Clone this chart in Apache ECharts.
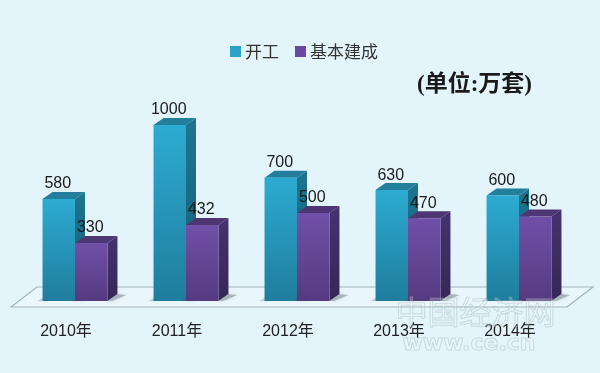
<!DOCTYPE html>
<html><head><meta charset="utf-8">
<script src="https://cdn.jsdelivr.net/npm/echarts@6/dist/echarts.min.js"></script>
<style>html,body{margin:0;padding:0;background:#e3f4fb}#c{width:600px;height:373px}</style>
</head><body><div id="c"></div>
<script>
const categories = ['2010年','2011年','2012年','2013年','2014年'];
const startValues = [580,1000,700,630,600];
const completedValues = [330,432,500,470,480];
const seriesNames = ['开工','基本建成'];
const unitText = '(单位:万套)';

const chart = echarts.init(document.getElementById('c'), null, {renderer:'canvas'});
const DX = 10, DY = -7;
const lg = (a,b)=>new echarts.graphic.LinearGradient(0,0,0,1,[{offset:0,color:a},{offset:1,color:b}]);
const pal = [
  {front:['#2dabd2','#1f7d9d'], side:['#1c7590','#175f79'], top:'#237e9c'},
  {front:['#7050a8','#553a80'], side:['#46326f','#372658'], top:'#4e3574'}
];
function bar3d(sign, p){
  return function(params, api){
    const i = api.value(0), v = api.value(1);
    const w = api.size([1,0])[0]*0.2925;
    const base = api.coord([i,0]), tp = api.coord([i,v]);
    const x0 = base[0] + (sign<0 ? -w : 0), x1 = x0 + w, y0 = base[1], y1 = tp[1];
    const children = [
      {type:'polygon',shape:{points:[[x1,y0],[x1+DX,y0+DY],[x1+DX+9,y0+DY+1],[x1+5,y0]]},
        style:{fill:'rgba(70,80,90,0.35)',shadowBlur:4,shadowColor:'rgba(70,80,90,0.35)'}},
      {type:'polygon',shape:{points:[[x0-5,y0],[x0+2,y0-4],[x0+2,y0]]},
        style:{fill:'rgba(70,80,90,0.25)',shadowBlur:3,shadowColor:'rgba(70,80,90,0.25)'}},
      {type:'polygon',shape:{points:[[x1,y0],[x1+DX,y0+DY],[x1+DX,y1+DY],[x1,y1]]},style:{fill:lg(p.side[0],p.side[1])}},
      {type:'polygon',shape:{points:[[x0,y1],[x1,y1],[x1+DX,y1+DY],[x0+DX,y1+DY]]},style:{fill:p.top}},
      {type:'rect',shape:{x:x0,y:y1,width:w,height:y0-y1},style:{fill:lg(p.front[0],p.front[1])}},
      {type:'text',style:{text:String(v),x:(x0+x1)/2-1,y:y1-15,align:'center',verticalAlign:'middle',
        font:'16px "Liberation Sans","Noto Sans CJK SC",sans-serif',fill:'#1a1a1a'},z2:50}
    ];
    return {type:'group',children};
  };
}
chart.setOption({
  animation:false,
  backgroundColor:'#e3f4fb',
  grid:{left:19.5,right:25.5,top:125,bottom:72},
  legend:{left:225,top:38,itemWidth:11,itemHeight:11,itemGap:16,icon:'rect',
    data:seriesNames,
    textStyle:{fontFamily:'"Noto Sans CJK SC"',fontSize:17,color:'#333',padding:[0,0,4,-1]}},
  graphic:[
    {type:'polygon',z:0,silent:true,shape:{points:[[11,307],[37,287],[593,287],[567,307]]},
      style:{fill:'#e9f6fb',stroke:'#a4b4bb',lineWidth:1.2}},
    {type:'text',z:100,silent:true,left:395,top:295,style:{text:'中国经济网',font:'32px "Noto Sans CJK SC"',
      fill:'rgba(255,255,255,0.2)',stroke:'rgba(150,165,175,0.4)',lineWidth:1}},
    {type:'text',z:100,silent:true,left:402,top:333,style:{text:'www.ce.cn',font:'bold 22px "DejaVu Sans"',
      fill:'rgba(255,255,255,0.2)',stroke:'rgba(150,165,175,0.4)',lineWidth:1}},
    {type:'text',z:60,silent:true,left:417,top:74,style:{text:unitText,
      font:'bold 23px "Liberation Serif","Noto Sans CJK SC",serif',fill:'#1a1a1a'}}
  ],
  xAxis:{type:'category',data:categories,
    axisLine:{show:false},axisTick:{show:false},
    axisLabel:{margin:23,fontSize:16,color:'#222',fontFamily:'"Liberation Sans","Noto Sans CJK SC"',padding:[0,18,0,0]}},
  yAxis:{type:'value',min:0,max:1000,show:false,splitLine:{show:false}},
  series:[
    {name:seriesNames[0],type:'custom',clip:false,itemStyle:{color:'#2aa3c9'},encode:{x:0,y:1},
      data:startValues.map((v,i)=>[i,v]),renderItem:bar3d(-1,pal[0])},
    {name:seriesNames[1],type:'custom',clip:false,itemStyle:{color:'#6a49a3'},encode:{x:0,y:1},
      data:completedValues.map((v,i)=>[i,v]),renderItem:bar3d(1,pal[1])}
  ]
});
</script></body></html>
